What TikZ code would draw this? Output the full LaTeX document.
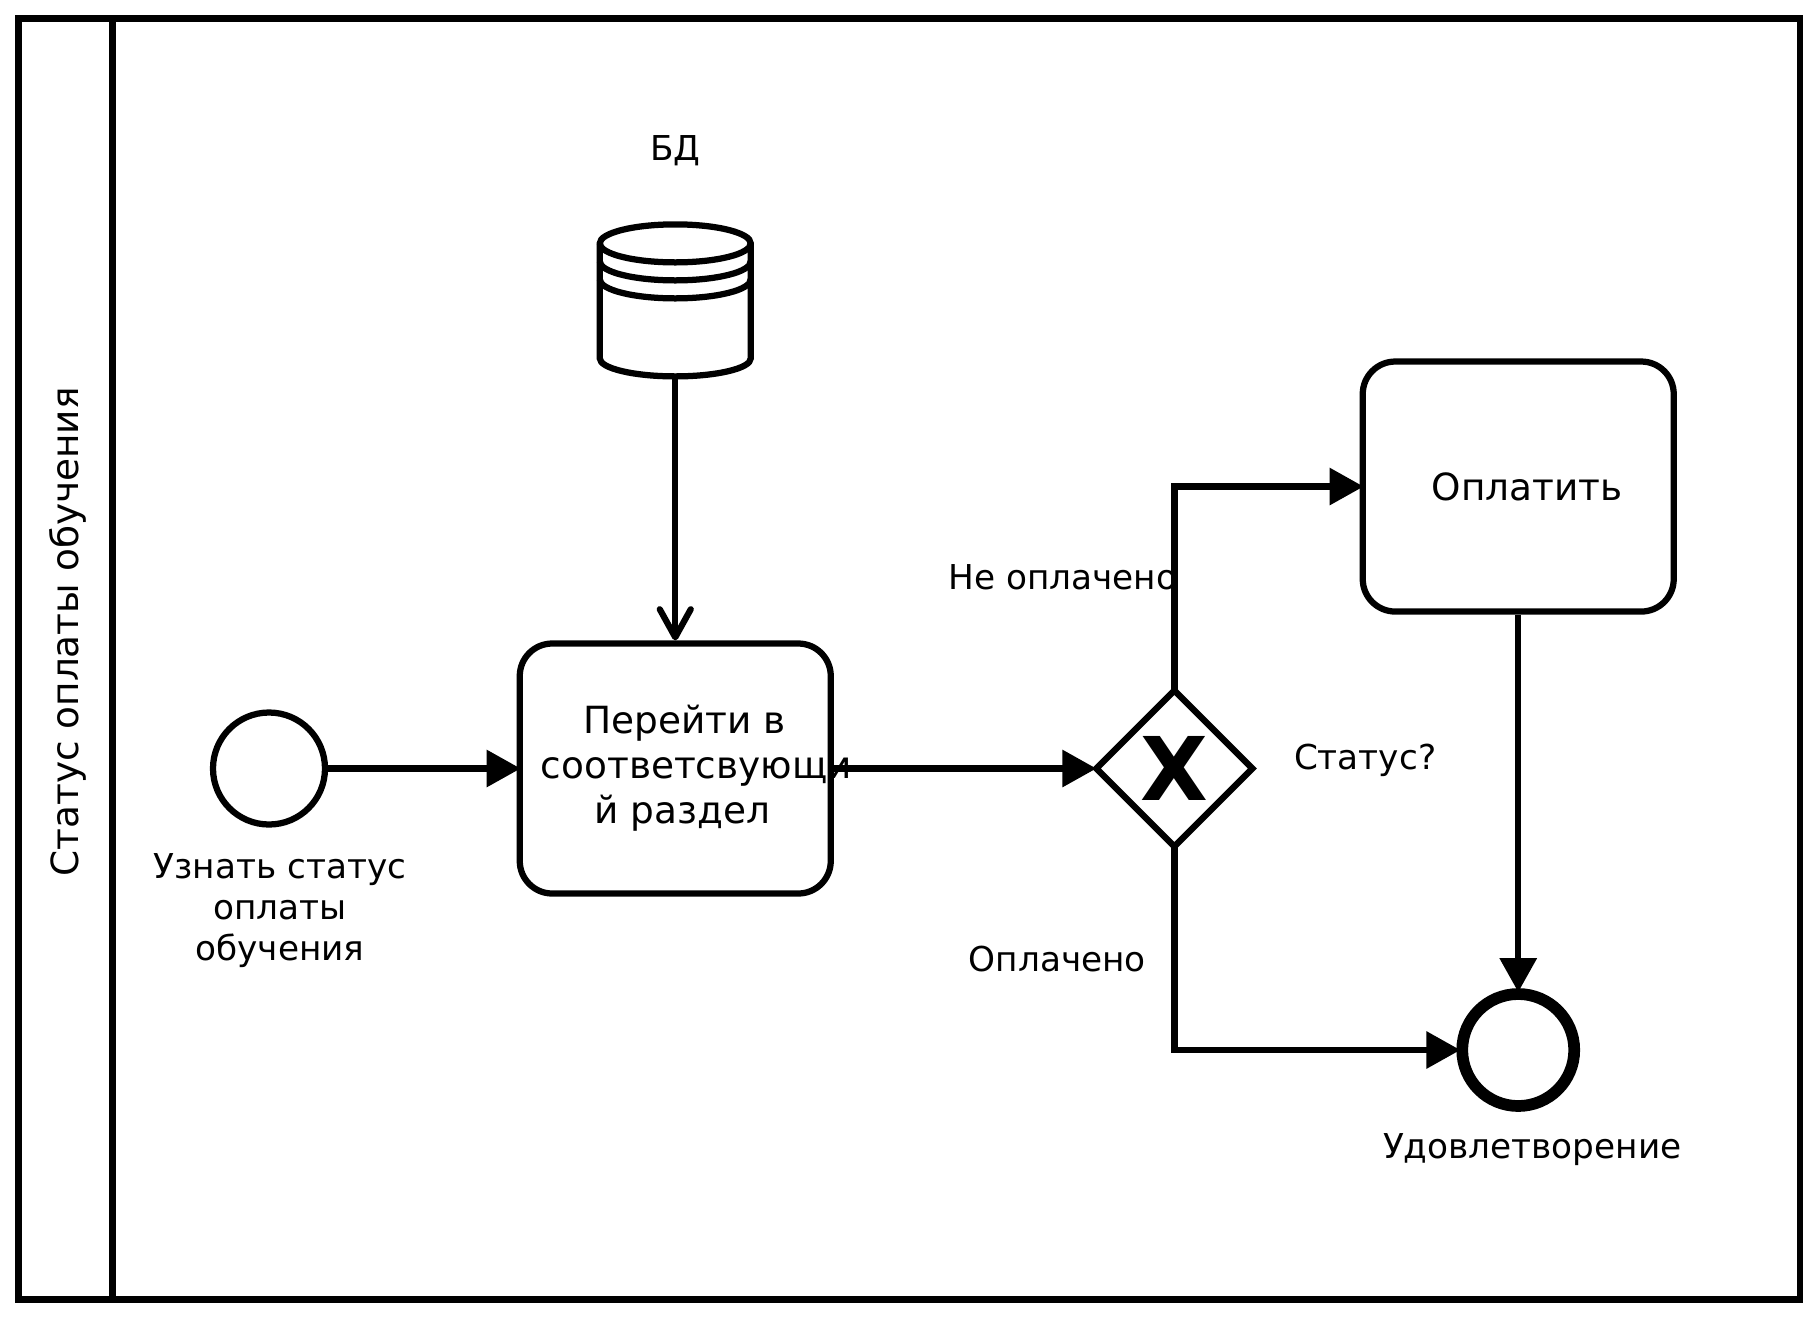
\documentclass[tikz,border=0pt]{standalone}
\usepackage{fontspec}
\setmainfont{DejaVu Sans}
\usetikzlibrary{arrows.meta, positioning, shapes.geometric}
\newcommand{\lineat}[2]{\makebox[0pt]{\hspace{#1}\hspace{#1}#2}}

\begin{document}
\begin{tikzpicture}[line width=.125cm, node distance=1cm,
    lane/.style={draw, minimum height=25.62cm, inner sep=0pt, outer sep=0pt},
    task/.style={draw, rounded corners=.65cm, minimum width=6.22cm, minimum height=5cm, inner sep=0pt, align=center, font=\fontsize{21.3}{25.6}\selectfont},
    startev/.style={draw, circle, minimum size=2.24cm, inner sep=0pt},
    endev/.style={draw, circle, minimum size=2.24cm, inner sep=0pt, line width=.234cm},
    gate/.style={draw, diamond, minimum width=3.12cm, minimum height=3.12cm, inner sep=0pt, outer sep=0pt, font=\fontsize{50}{50}\selectfont\bfseries},
    lbl/.style={inner sep=0pt, align=center, font=\fontsize{19.5}{23.3}\selectfont},
    flow/.style={-{Triangle[length=.68cm, width=.72cm]}, shorten >=-.08cm},
    assoc/.style={-{Straight Barb[length=.56cm, width=.62cm, round]}}]
    \useasboundingbox (0,0) rectangle (36.38,-26.38);
    \node[lane, minimum width=1.88cm, anchor=north west] (head) at (.37,-.37) {};
    \node[lane, minimum width=33.75cm, right=0cm of head] (body) {};
    \node[lbl, rotate=90, font=\fontsize{21.3}{25.6}\selectfont] (title) at ([xshift=.04cm, yshift=.54cm]head.center) {Статус оплаты обучения};
    \node[startev] (start) at (5.38,-15.37) {};
    \node[lbl, below=.46cm of start, xshift=.22cm] (startlbl) {Узнать статус\\оплаты\\обучения};
    \node[task, right=3.77cm of start] (go) {\lineat{.18cm}{Перейти в}\\\lineat{.42cm}{соответсвующи}\\\lineat{.14cm}{й раздел}};
    \node[minimum width=3.02cm, minimum height=3.04cm, inner sep=0pt, outer sep=0pt, above=5.28cm of go] (db) {};
    \node[lbl, above=1.11cm of db] (dblbl) {БД};
    \node[gate, right=5.25cm of go] (gw) {X};
    \node[lbl, right=.77cm of gw, yshift=.17cm] (status) {Статус?};
    \node[endev, right=4.08cm of gw, yshift=-5.63cm] (end) {};
    \node[lbl, below=.38cm of end, xshift=.28cm] (endlbl) {Удовлетворение};
    \node[task, above=7.47cm of end] (pay) {\lineat{.18cm}{Оплатить}};
    \node[lbl, left=-.12cm of gw.north, yshift=2.26cm] (notpaid) {Не оплачено};
    \node[lbl, left=.51cm of gw.south, yshift=-2.26cm] (paid) {Оплачено};
    % database
    \draw ([yshift=-.38cm]db.north west) arc (180:0:1.51 and .38) -- ([yshift=.36cm]db.south east) arc (0:-180:1.51 and .36) -- cycle;
    \foreach \dy in {.38,.74,1.10}
      \draw ([yshift=-\dy cm]db.north west) arc (180:360:1.51 and .38);
    % flows
    \draw[assoc] (db.south)--(go.north);
    \draw[flow] (start)--(go); \draw[flow, shorten >=0cm] (go)--(gw);
    \draw[flow] (gw.north) |- (pay.west);
    \draw[flow] (gw.south) |- (end.west);
    \draw[flow] (pay)--(end);
  \end{tikzpicture}
\end{document}
